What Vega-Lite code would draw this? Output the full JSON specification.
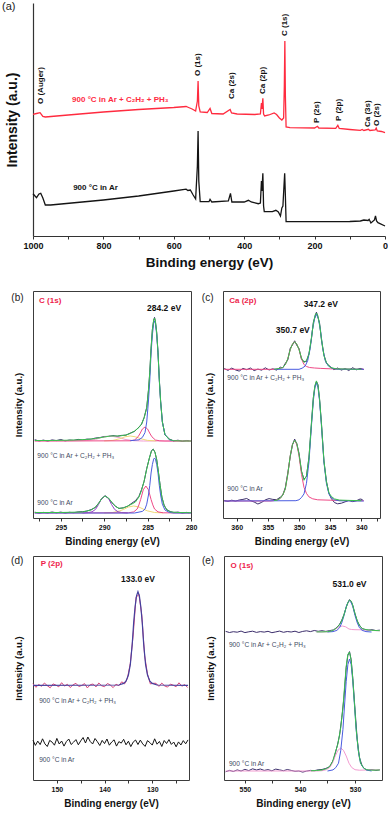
{
"$schema":"https://vega.github.io/schema/vega-lite/v6.json",
"background":"white",
"padding":{"left":2,"top":1,"right":0,"bottom":0},
"autosize":{"type":"pad"},
"config":{
 "font":"Liberation Sans",
 "view":{"stroke":"#3c3c3c","strokeWidth":1},
 "axis":{"grid":false,"labelFont":"Liberation Sans","titleFont":"Liberation Sans","labelFontWeight":"bold","titleFontWeight":"bold","labelColor":"#111","titleColor":"#111","tickColor":"#333","domainColor":"#333","labelFlush":false,"labelOverlap":false}
},
"datasets":{
"a":[
{"c":"red","E":1000,"I":121.7},{"c":"red","E":990,"I":122.5},{"c":"red","E":980,"I":123.3},{"c":"red","E":972,"I":119.5},{"c":"red","E":965,"I":119},{"c":"red","E":900,"I":121},{"c":"red","E":800,"I":124},{"c":"red","E":700,"I":126.5},{"c":"red","E":600,"I":128.5},{"c":"red","E":565,"I":129.5},{"c":"red","E":558,"I":128.5},{"c":"red","E":548,"I":127},{"c":"red","E":538,"I":125},{"c":"red","E":533,"I":135},{"c":"red","E":531,"I":155},{"c":"red","E":529,"I":130},{"c":"red","E":525,"I":124},{"c":"red","E":505,"I":123.5},{"c":"red","E":497,"I":127.5},{"c":"red","E":492,"I":122.5},{"c":"red","E":460,"I":122},{"c":"red","E":440,"I":126.5},{"c":"red","E":436,"I":123},{"c":"red","E":420,"I":122},{"c":"red","E":370,"I":121.5},{"c":"red","E":354,"I":122},{"c":"red","E":351,"I":133},{"c":"red","E":349.5,"I":127},{"c":"red","E":347,"I":137.7},{"c":"red","E":345,"I":122},{"c":"red","E":342,"I":120},{"c":"red","E":330,"I":121},{"c":"red","E":315,"I":123},{"c":"red","E":308,"I":121.5},{"c":"red","E":300,"I":118},{"c":"red","E":293,"I":116},{"c":"red","E":288,"I":118},{"c":"red","E":286,"I":150},{"c":"red","E":284.5,"I":195},{"c":"red","E":283,"I":140},{"c":"red","E":281,"I":109},{"c":"red","E":270,"I":108.3},{"c":"red","E":200,"I":108},{"c":"red","E":192,"I":109.7},{"c":"red","E":188,"I":108},{"c":"red","E":140,"I":107.7},{"c":"red","E":134,"I":110.7},{"c":"red","E":130,"I":107.5},{"c":"red","E":100,"I":106.5},{"c":"red","E":70,"I":105.7},{"c":"red","E":65,"I":106.5},{"c":"red","E":60,"I":105.5},{"c":"red","E":47,"I":106.7},{"c":"red","E":43,"I":105.5},{"c":"red","E":28,"I":106},{"c":"red","E":25,"I":108},{"c":"red","E":22,"I":105},{"c":"red","E":10,"I":104.5},{"c":"red","E":0,"I":103.3},
{"c":"black","E":1000,"I":42.3},{"c":"black","E":990,"I":38.3},{"c":"black","E":983,"I":42},{"c":"black","E":978,"I":42.7},{"c":"black","E":972,"I":38},{"c":"black","E":965,"I":31},{"c":"black","E":950,"I":31},{"c":"black","E":800,"I":36},{"c":"black","E":700,"I":40},{"c":"black","E":600,"I":45},{"c":"black","E":565,"I":46.8},{"c":"black","E":560,"I":45.5},{"c":"black","E":553,"I":46},{"c":"black","E":545,"I":41},{"c":"black","E":538,"I":37},{"c":"black","E":533,"I":70},{"c":"black","E":531,"I":105},{"c":"black","E":529,"I":55},{"c":"black","E":525,"I":34.3},{"c":"black","E":500,"I":34.3},{"c":"black","E":497,"I":36.7},{"c":"black","E":492,"I":34},{"c":"black","E":445,"I":35},{"c":"black","E":439,"I":42.7},{"c":"black","E":435,"I":34},{"c":"black","E":400,"I":34},{"c":"black","E":388,"I":35.7},{"c":"black","E":380,"I":34},{"c":"black","E":360,"I":32.3},{"c":"black","E":354,"I":33},{"c":"black","E":351,"I":55},{"c":"black","E":349.5,"I":45},{"c":"black","E":347,"I":62.7},{"c":"black","E":345,"I":30},{"c":"black","E":343,"I":24.3},{"c":"black","E":320,"I":24.3},{"c":"black","E":310,"I":25.7},{"c":"black","E":303,"I":24},{"c":"black","E":297,"I":20},{"c":"black","E":293,"I":28},{"c":"black","E":290,"I":30},{"c":"black","E":287,"I":50},{"c":"black","E":285,"I":62.7},{"c":"black","E":283,"I":40},{"c":"black","E":281,"I":14.3},{"c":"black","E":200,"I":14.3},{"c":"black","E":100,"I":14.5},{"c":"black","E":70,"I":15},{"c":"black","E":60,"I":16},{"c":"black","E":48,"I":15.5},{"c":"black","E":45,"I":16.7},{"c":"black","E":40,"I":13},{"c":"black","E":30,"I":16},{"c":"black","E":27,"I":20},{"c":"black","E":24,"I":15},{"c":"black","E":20,"I":13.3},{"c":"black","E":0,"I":10}
],
"aL":[
{"k":"peak","t":"O (Auger)","E":976,"I":132},
{"k":"peak","t":"O (1s)","E":531,"I":160},
{"k":"peak","t":"Ca (2s)","E":436,"I":137},
{"k":"peak","t":"Ca (2p)","E":346,"I":142},
{"k":"peak","t":"C (1s)","E":284,"I":200},
{"k":"peak","t":"P (2s)","E":192,"I":113},
{"k":"peak","t":"P (2p)","E":131,"I":115},
{"k":"peak","t":"Ca (3s)","E":47,"I":109},
{"k":"peak","t":"O (2s)","E":23.5,"I":110},
{"k":"ser","c":"red","t":"900 °C in Ar + C₂H₂ + PH₃","E":889,"I":135.7},
{"k":"ser","c":"black","t":"900 °C in Ar","E":886,"I":48.3},
{"k":"pan","t":"(a)","E":1088,"I":229}
],
"L":[
{"p":"b","k":"pan","t":"(b)","E":300.7,"I":220},
{"p":"b","k":"name","t":"C (1s)","E":297.5,"I":217},
{"p":"b","k":"val","t":"284.2 eV","E":283.1,"I":210},
{"p":"b","k":"ser","t":"900 °C in Ar + C₂H₂ + PH₃","E":297.7,"I":62},
{"p":"b","k":"ser","t":"900 °C in Ar","E":297.7,"I":15.3},
{"p":"c","k":"pan","t":"(c)","E":365.6,"I":220},
{"p":"c","k":"name","t":"Ca (2p)","E":361.2,"I":217},
{"p":"c","k":"val","t":"347.2 eV","E":346.5,"I":214.3},
{"p":"c","k":"val","t":"350.7 eV","E":351.0,"I":187.7},
{"p":"c","k":"ser","t":"900 °C in Ar + C₂H₂ + PH₃","E":361.5,"I":140.3},
{"p":"c","k":"ser","t":"900 °C in Ar","E":361.5,"I":29.3},
{"p":"d","k":"pan","t":"(d)","E":159.6,"I":219},
{"p":"d","k":"name","t":"P (2p)","E":153.4,"I":215.7},
{"p":"d","k":"val","t":"133.0 eV","E":133.0,"I":200.7},
{"p":"d","k":"ser","t":"900 °C in Ar + C₂H₂ + PH₃","E":153.7,"I":79},
{"p":"d","k":"ser","t":"900 °C in Ar","E":153.7,"I":19.7},
{"p":"e","k":"pan","t":"(e)","E":557.8,"I":219},
{"p":"e","k":"name","t":"O (1s)","E":552.6,"I":214},
{"p":"e","k":"val","t":"531.0 eV","E":531.0,"I":195.7},
{"p":"e","k":"ser","t":"900 °C in Ar + C₂H₂ + PH₃","E":552.9,"I":135},
{"p":"e","k":"ser","t":"900 °C in Ar","E":552.9,"I":15.7}
],
"b":[
{"g":"u","c":"raw","E":298,"I":78.3},{"g":"u","c":"raw","E":297.5,"I":77.0},{"g":"u","c":"raw","E":297,"I":77.9},{"g":"u","c":"raw","E":296.5,"I":76.8},{"g":"u","c":"raw","E":296,"I":78.1},{"g":"u","c":"raw","E":295.5,"I":77.4},{"g":"u","c":"raw","E":295,"I":78.5},{"g":"u","c":"raw","E":294.5,"I":77.1},{"g":"u","c":"raw","E":294,"I":78.0},{"g":"u","c":"raw","E":293.5,"I":77.6},{"g":"u","c":"raw","E":293,"I":78.6},{"g":"u","c":"raw","E":292.5,"I":77.9},{"g":"u","c":"raw","E":292,"I":78.9},{"g":"u","c":"raw","E":291.5,"I":78.8},{"g":"u","c":"raw","E":291,"I":80.0},{"g":"u","c":"raw","E":290.5,"I":80.4},{"g":"u","c":"raw","E":290,"I":81.5},{"g":"u","c":"raw","E":289.5,"I":81.6},{"g":"u","c":"raw","E":289,"I":82.4},{"g":"u","c":"raw","E":288.5,"I":81.7},{"g":"u","c":"raw","E":288,"I":82.6},{"g":"u","c":"raw","E":287.5,"I":82.8},{"g":"u","c":"raw","E":287,"I":84.9},{"g":"u","c":"raw","E":286.5,"I":86.6},{"g":"u","c":"raw","E":286,"I":90.9},{"g":"u","c":"raw","E":285.7,"I":93.7},{"g":"u","c":"raw","E":285.4,"I":100.5},{"g":"u","c":"raw","E":285.1,"I":110.6},{"g":"u","c":"raw","E":284.9,"I":127.5},{"g":"u","c":"raw","E":284.75,"I":145.6},{"g":"u","c":"raw","E":284.6,"I":169.3},{"g":"u","c":"raw","E":284.45,"I":188.5},{"g":"u","c":"raw","E":284.3,"I":197.6},{"g":"u","c":"raw","E":284.2,"I":200.6},{"g":"u","c":"raw","E":284.1,"I":196.4},{"g":"u","c":"raw","E":283.95,"I":185.6},{"g":"u","c":"raw","E":283.8,"I":165.3},{"g":"u","c":"raw","E":283.65,"I":138.8},{"g":"u","c":"raw","E":283.5,"I":116.4},{"g":"u","c":"raw","E":283.3,"I":96.5},{"g":"u","c":"raw","E":283,"I":83.0},{"g":"u","c":"raw","E":282.5,"I":79.1},{"g":"u","c":"raw","E":282,"I":77.0},{"g":"u","c":"raw","E":281.5,"I":77.8},{"g":"u","c":"raw","E":281,"I":76.6},{"g":"u","c":"raw","E":280.5,"I":77.5},{"g":"u","c":"raw","E":280.2,"I":77.1},
{"g":"l","c":"raw","E":298,"I":5.8},{"g":"l","c":"raw","E":297.5,"I":4.9},{"g":"l","c":"raw","E":297,"I":5.6},{"g":"l","c":"raw","E":296.5,"I":5.1},{"g":"l","c":"raw","E":296,"I":6.0},{"g":"l","c":"raw","E":295.5,"I":5.2},{"g":"l","c":"raw","E":295,"I":5.9},{"g":"l","c":"raw","E":294.5,"I":5.0},{"g":"l","c":"raw","E":294,"I":5.7},{"g":"l","c":"raw","E":293.5,"I":5.3},{"g":"l","c":"raw","E":293,"I":6.1},{"g":"l","c":"raw","E":292.5,"I":6.3},{"g":"l","c":"raw","E":292,"I":6.9},{"g":"l","c":"raw","E":291.5,"I":8.4},{"g":"l","c":"raw","E":291,"I":10.6},{"g":"l","c":"raw","E":290.6,"I":15.4},{"g":"l","c":"raw","E":290.3,"I":19.0},{"g":"l","c":"raw","E":289.9,"I":22.3},{"g":"l","c":"raw","E":289.5,"I":19.6},{"g":"l","c":"raw","E":289.1,"I":15.2},{"g":"l","c":"raw","E":288.7,"I":11.9},{"g":"l","c":"raw","E":288.3,"I":9.5},{"g":"l","c":"raw","E":287.8,"I":10.2},{"g":"l","c":"raw","E":287.3,"I":11.7},{"g":"l","c":"raw","E":286.8,"I":14.9},{"g":"l","c":"raw","E":286.4,"I":17.3},{"g":"l","c":"raw","E":286,"I":21.6},{"g":"l","c":"raw","E":285.7,"I":28.4},{"g":"l","c":"raw","E":285.4,"I":36.5},{"g":"l","c":"raw","E":285.1,"I":49.5},{"g":"l","c":"raw","E":284.8,"I":59.6},{"g":"l","c":"raw","E":284.55,"I":67.4},{"g":"l","c":"raw","E":284.35,"I":68.9},{"g":"l","c":"raw","E":284.15,"I":65.6},{"g":"l","c":"raw","E":283.95,"I":58.4},{"g":"l","c":"raw","E":283.75,"I":45.6},{"g":"l","c":"raw","E":283.55,"I":32.4},{"g":"l","c":"raw","E":283.35,"I":20.7},{"g":"l","c":"raw","E":283.1,"I":12.9},{"g":"l","c":"raw","E":282.8,"I":8.2},{"g":"l","c":"raw","E":282.4,"I":6.5},{"g":"l","c":"raw","E":282,"I":5.4},{"g":"l","c":"raw","E":281.5,"I":5.9},{"g":"l","c":"raw","E":281,"I":5.0},{"g":"l","c":"raw","E":280.5,"I":5.6},{"g":"l","c":"raw","E":280.2,"I":5.2},
{"g":"u","c":"fit","E":298,"I":77.5},{"g":"u","c":"fit","E":296,"I":77.5},{"g":"u","c":"fit","E":294,"I":77.8},{"g":"u","c":"fit","E":292,"I":78.5},{"g":"u","c":"fit","E":291,"I":79.5},{"g":"u","c":"fit","E":290,"I":81},{"g":"u","c":"fit","E":289.3,"I":82},{"g":"u","c":"fit","E":288.5,"I":82},{"g":"u","c":"fit","E":288,"I":82.3},{"g":"u","c":"fit","E":287.5,"I":83},{"g":"u","c":"fit","E":287,"I":84.5},{"g":"u","c":"fit","E":286.5,"I":87},{"g":"u","c":"fit","E":286,"I":90.5},{"g":"u","c":"fit","E":285.7,"I":94},{"g":"u","c":"fit","E":285.4,"I":100},{"g":"u","c":"fit","E":285.1,"I":110},{"g":"u","c":"fit","E":284.9,"I":128},{"g":"u","c":"fit","E":284.75,"I":145},{"g":"u","c":"fit","E":284.6,"I":170},{"g":"u","c":"fit","E":284.45,"I":188},{"g":"u","c":"fit","E":284.3,"I":198},{"g":"u","c":"fit","E":284.2,"I":200},{"g":"u","c":"fit","E":284.1,"I":197},{"g":"u","c":"fit","E":283.95,"I":185},{"g":"u","c":"fit","E":283.8,"I":166},{"g":"u","c":"fit","E":283.65,"I":138},{"g":"u","c":"fit","E":283.5,"I":117},{"g":"u","c":"fit","E":283.3,"I":96},{"g":"u","c":"fit","E":283,"I":83.5},{"g":"u","c":"fit","E":282.5,"I":78.5},{"g":"u","c":"fit","E":282,"I":77.3},{"g":"u","c":"fit","E":281,"I":77},{"g":"u","c":"fit","E":280,"I":77},
{"g":"l","c":"fit","E":298,"I":5.5},{"g":"l","c":"fit","E":295,"I":5.5},{"g":"l","c":"fit","E":292.5,"I":6},{"g":"l","c":"fit","E":291.5,"I":8},{"g":"l","c":"fit","E":291,"I":11},{"g":"l","c":"fit","E":290.6,"I":15},{"g":"l","c":"fit","E":290.3,"I":19.5},{"g":"l","c":"fit","E":289.9,"I":22},{"g":"l","c":"fit","E":289.5,"I":20},{"g":"l","c":"fit","E":289.1,"I":15.5},{"g":"l","c":"fit","E":288.7,"I":11.5},{"g":"l","c":"fit","E":288.3,"I":9.7},{"g":"l","c":"fit","E":287.8,"I":10},{"g":"l","c":"fit","E":287.3,"I":12},{"g":"l","c":"fit","E":286.8,"I":14},{"g":"l","c":"fit","E":286.4,"I":16},{"g":"l","c":"fit","E":286,"I":21},{"g":"l","c":"fit","E":285.7,"I":27.5},{"g":"l","c":"fit","E":285.4,"I":37},{"g":"l","c":"fit","E":285.1,"I":49},{"g":"l","c":"fit","E":284.8,"I":60},{"g":"l","c":"fit","E":284.55,"I":67},{"g":"l","c":"fit","E":284.35,"I":68.7},{"g":"l","c":"fit","E":284.15,"I":66},{"g":"l","c":"fit","E":283.95,"I":58},{"g":"l","c":"fit","E":283.75,"I":46},{"g":"l","c":"fit","E":283.55,"I":32},{"g":"l","c":"fit","E":283.35,"I":21},{"g":"l","c":"fit","E":283.1,"I":12.5},{"g":"l","c":"fit","E":282.8,"I":8.5},{"g":"l","c":"fit","E":282.4,"I":6.2},{"g":"l","c":"fit","E":281.5,"I":5.5},{"g":"l","c":"fit","E":280,"I":5.3},
{"g":"u1","c":"lpink","E":298,"I":77.2},{"g":"u1","c":"lpink","E":294,"I":77.2},{"g":"u1","c":"lpink","E":292,"I":77.5},{"g":"u1","c":"lpink","E":291,"I":78.6},{"g":"u1","c":"lpink","E":290.3,"I":80.5},{"g":"u1","c":"lpink","E":289.3,"I":82},{"g":"u1","c":"lpink","E":288.3,"I":80.5},{"g":"u1","c":"lpink","E":287.6,"I":78.6},{"g":"u1","c":"lpink","E":286.6,"I":77.3},{"g":"u1","c":"lpink","E":285.5,"I":77},{"g":"u1","c":"lpink","E":280,"I":77},
{"g":"u2","c":"yellow","E":290,"I":77.1},{"g":"u2","c":"yellow","E":289,"I":77.6},{"g":"u2","c":"yellow","E":288.2,"I":79.3},{"g":"u2","c":"yellow","E":287.6,"I":81.2},{"g":"u2","c":"yellow","E":287,"I":82},{"g":"u2","c":"yellow","E":286.4,"I":81.2},{"g":"u2","c":"yellow","E":285.8,"I":79.3},{"g":"u2","c":"yellow","E":285,"I":77.6},{"g":"u2","c":"yellow","E":284,"I":77.1},
{"g":"u3","c":"pink","E":298,"I":77},{"g":"u3","c":"pink","E":287,"I":77.2},{"g":"u3","c":"pink","E":286.5,"I":78},{"g":"u3","c":"pink","E":286.1,"I":81.2},{"g":"u3","c":"pink","E":285.9,"I":84},{"g":"u3","c":"pink","E":285.6,"I":89},{"g":"u3","c":"pink","E":285.3,"I":91},{"g":"u3","c":"pink","E":285,"I":89},{"g":"u3","c":"pink","E":284.7,"I":84},{"g":"u3","c":"pink","E":284.5,"I":81.2},{"g":"u3","c":"pink","E":284.1,"I":78},{"g":"u3","c":"pink","E":283.6,"I":77.2},{"g":"u3","c":"pink","E":283,"I":77},{"g":"u3","c":"pink","E":280,"I":77},
{"g":"u4","c":"blue","E":287,"I":77.3},{"g":"u4","c":"blue","E":286,"I":78.2},{"g":"u4","c":"blue","E":285.6,"I":80.6},{"g":"u4","c":"blue","E":285.3,"I":85.4},{"g":"u4","c":"blue","E":285.1,"I":96},{"g":"u4","c":"blue","E":284.9,"I":117},{"g":"u4","c":"blue","E":284.75,"I":137},{"g":"u4","c":"blue","E":284.6,"I":165},{"g":"u4","c":"blue","E":284.45,"I":183},{"g":"u4","c":"blue","E":284.3,"I":194.6},{"g":"u4","c":"blue","E":284.2,"I":197},{"g":"u4","c":"blue","E":284.1,"I":194.6},{"g":"u4","c":"blue","E":283.95,"I":183},{"g":"u4","c":"blue","E":283.8,"I":165},{"g":"u4","c":"blue","E":283.65,"I":137},{"g":"u4","c":"blue","E":283.5,"I":117},{"g":"u4","c":"blue","E":283.3,"I":96},{"g":"u4","c":"blue","E":283,"I":83.6},{"g":"u4","c":"blue","E":282.5,"I":78.2},{"g":"u4","c":"blue","E":282,"I":77.2},
{"g":"l1","c":"yellow","E":290,"I":5.1},{"g":"l1","c":"yellow","E":289,"I":5.5},{"g":"l1","c":"yellow","E":288.2,"I":7.1},{"g":"l1","c":"yellow","E":287.8,"I":8.5},{"g":"l1","c":"yellow","E":287.2,"I":11},{"g":"l1","c":"yellow","E":286.6,"I":12},{"g":"l1","c":"yellow","E":286,"I":11},{"g":"l1","c":"yellow","E":285.4,"I":8.5},{"g":"l1","c":"yellow","E":285,"I":7.1},{"g":"l1","c":"yellow","E":284.2,"I":5.5},{"g":"l1","c":"yellow","E":283.2,"I":5.1},
{"g":"l2","c":"purple","E":292.5,"I":5},{"g":"l2","c":"purple","E":291.8,"I":5.5},{"g":"l2","c":"purple","E":291.4,"I":6.2},{"g":"l2","c":"purple","E":291,"I":8.6},{"g":"l2","c":"purple","E":290.65,"I":13.5},{"g":"l2","c":"purple","E":290.3,"I":19.5},{"g":"l2","c":"purple","E":289.9,"I":22},{"g":"l2","c":"purple","E":289.5,"I":19.5},{"g":"l2","c":"purple","E":289.15,"I":13.5},{"g":"l2","c":"purple","E":288.8,"I":8.6},{"g":"l2","c":"purple","E":288.4,"I":6.2},{"g":"l2","c":"purple","E":288,"I":5.5},{"g":"l2","c":"purple","E":287.3,"I":5},
{"g":"l3","c":"pink","E":298,"I":5},{"g":"l3","c":"pink","E":287.2,"I":5.2},{"g":"l3","c":"pink","E":286.6,"I":6.1},{"g":"l3","c":"pink","E":286.2,"I":9},{"g":"l3","c":"pink","E":286,"I":13.1},{"g":"l3","c":"pink","E":285.8,"I":18.5},{"g":"l3","c":"pink","E":285.5,"I":28.2},{"g":"l3","c":"pink","E":285.2,"I":32},{"g":"l3","c":"pink","E":284.9,"I":28.2},{"g":"l3","c":"pink","E":284.6,"I":18.5},{"g":"l3","c":"pink","E":284.4,"I":13.1},{"g":"l3","c":"pink","E":284.2,"I":9},{"g":"l3","c":"pink","E":283.8,"I":6.1},{"g":"l3","c":"pink","E":283.2,"I":5.2},{"g":"l3","c":"pink","E":280,"I":5},
{"g":"l4","c":"blue","E":298,"I":5},{"g":"l4","c":"blue","E":286.5,"I":5},{"g":"l4","c":"blue","E":285.6,"I":6.6},{"g":"l4","c":"blue","E":285.3,"I":8.9},{"g":"l4","c":"blue","E":285.1,"I":13.8},{"g":"l4","c":"blue","E":284.9,"I":23},{"g":"l4","c":"blue","E":284.75,"I":32.5},{"g":"l4","c":"blue","E":284.6,"I":45},{"g":"l4","c":"blue","E":284.45,"I":53.4},{"g":"l4","c":"blue","E":284.3,"I":58.9},{"g":"l4","c":"blue","E":284.2,"I":60},{"g":"l4","c":"blue","E":284.1,"I":58.9},{"g":"l4","c":"blue","E":283.95,"I":53.4},{"g":"l4","c":"blue","E":283.8,"I":45},{"g":"l4","c":"blue","E":283.65,"I":32.5},{"g":"l4","c":"blue","E":283.5,"I":23},{"g":"l4","c":"blue","E":283.3,"I":13.8},{"g":"l4","c":"blue","E":283,"I":8},{"g":"l4","c":"blue","E":282.5,"I":5.6},{"g":"l4","c":"blue","E":282,"I":5},{"g":"l4","c":"blue","E":280,"I":5}
],
"c":[
{"g":"u","c":"raw","E":362,"I":149.5},{"g":"u","c":"raw","E":361.4,"I":147.6},{"g":"u","c":"raw","E":360.8,"I":149.9},{"g":"u","c":"raw","E":360.2,"I":148.1},{"g":"u","c":"raw","E":359.6,"I":146.9},{"g":"u","c":"raw","E":359,"I":149.6},{"g":"u","c":"raw","E":358.4,"I":148.3},{"g":"u","c":"raw","E":357.8,"I":150.0},{"g":"u","c":"raw","E":357.2,"I":147.4},{"g":"u","c":"raw","E":356.6,"I":148.9},{"g":"u","c":"raw","E":356,"I":147.8},{"g":"u","c":"raw","E":355.4,"I":150.2},{"g":"u","c":"raw","E":354.8,"I":148.0},{"g":"u","c":"raw","E":354.2,"I":149.2},{"g":"u","c":"raw","E":353.6,"I":147.9},{"g":"u","c":"raw","E":353,"I":150.8},{"g":"u","c":"raw","E":352.6,"I":150.1},{"g":"u","c":"raw","E":352.2,"I":154.6},{"g":"u","c":"raw","E":351.8,"I":158.0},{"g":"u","c":"raw","E":351.4,"I":169.9},{"g":"u","c":"raw","E":351.05,"I":173.0},{"g":"u","c":"raw","E":350.7,"I":177.2},{"g":"u","c":"raw","E":350.35,"I":172.6},{"g":"u","c":"raw","E":350,"I":169.5},{"g":"u","c":"raw","E":349.6,"I":158.6},{"g":"u","c":"raw","E":349.2,"I":156.5},{"g":"u","c":"raw","E":348.8,"I":156.4},{"g":"u","c":"raw","E":348.4,"I":164.6},{"g":"u","c":"raw","E":348,"I":179.3},{"g":"u","c":"raw","E":347.7,"I":195.6},{"g":"u","c":"raw","E":347.4,"I":202.2},{"g":"u","c":"raw","E":347.2,"I":205.8},{"g":"u","c":"raw","E":347,"I":201.8},{"g":"u","c":"raw","E":346.7,"I":194.9},{"g":"u","c":"raw","E":346.4,"I":178.3},{"g":"u","c":"raw","E":346,"I":163.4},{"g":"u","c":"raw","E":345.6,"I":154.6},{"g":"u","c":"raw","E":345,"I":151.5},{"g":"u","c":"raw","E":344.4,"I":148.3},{"g":"u","c":"raw","E":343.8,"I":150.0},{"g":"u","c":"raw","E":343.2,"I":147.9},{"g":"u","c":"raw","E":342.6,"I":149.4},{"g":"u","c":"raw","E":342,"I":147.5},{"g":"u","c":"raw","E":341.4,"I":150.3},{"g":"u","c":"raw","E":340.8,"I":148.2},{"g":"u","c":"raw","E":340.2,"I":149.6},{"g":"u","c":"raw","E":339.6,"I":148.5},
{"g":"l","c":"raw","E":362,"I":17.5},{"g":"l","c":"raw","E":361.4,"I":16.6},{"g":"l","c":"raw","E":360.8,"I":17.8},{"g":"l","c":"raw","E":360.2,"I":16.9},{"g":"l","c":"raw","E":359.6,"I":18.0},{"g":"l","c":"raw","E":359,"I":18.6},{"g":"l","c":"raw","E":358.4,"I":19.5},{"g":"l","c":"raw","E":357.8,"I":17.4},{"g":"l","c":"raw","E":357.2,"I":16.0},{"g":"l","c":"raw","E":356.6,"I":14.0},{"g":"l","c":"raw","E":356,"I":15.6},{"g":"l","c":"raw","E":355.4,"I":18.2},{"g":"l","c":"raw","E":354.8,"I":19.4},{"g":"l","c":"raw","E":354.2,"I":18.6},{"g":"l","c":"raw","E":353.6,"I":18.3},{"g":"l","c":"raw","E":353,"I":20.8},{"g":"l","c":"raw","E":352.6,"I":23.0},{"g":"l","c":"raw","E":352.2,"I":30.4},{"g":"l","c":"raw","E":351.8,"I":44.9},{"g":"l","c":"raw","E":351.4,"I":61.6},{"g":"l","c":"raw","E":351.05,"I":73.1},{"g":"l","c":"raw","E":350.7,"I":78.9},{"g":"l","c":"raw","E":350.35,"I":74.0},{"g":"l","c":"raw","E":350,"I":64.8},{"g":"l","c":"raw","E":349.6,"I":46.5},{"g":"l","c":"raw","E":349.2,"I":38.9},{"g":"l","c":"raw","E":348.8,"I":41.5},{"g":"l","c":"raw","E":348.4,"I":60.9},{"g":"l","c":"raw","E":348,"I":94.6},{"g":"l","c":"raw","E":347.7,"I":120.4},{"g":"l","c":"raw","E":347.45,"I":131.6},{"g":"l","c":"raw","E":347.2,"I":136.5},{"g":"l","c":"raw","E":346.95,"I":133.2},{"g":"l","c":"raw","E":346.7,"I":118.4},{"g":"l","c":"raw","E":346.4,"I":95.1},{"g":"l","c":"raw","E":346,"I":56.9},{"g":"l","c":"raw","E":345.6,"I":36.8},{"g":"l","c":"raw","E":345.2,"I":24.6},{"g":"l","c":"raw","E":344.8,"I":19.3},{"g":"l","c":"raw","E":344.3,"I":15.4},{"g":"l","c":"raw","E":343.8,"I":14.2},{"g":"l","c":"raw","E":343.2,"I":14.8},{"g":"l","c":"raw","E":342.6,"I":16.2},{"g":"l","c":"raw","E":342,"I":17.5},{"g":"l","c":"raw","E":341.4,"I":16.4},{"g":"l","c":"raw","E":340.8,"I":17.2},{"g":"l","c":"raw","E":340.2,"I":19.0},{"g":"l","c":"raw","E":339.8,"I":18.4},
{"g":"u","c":"fit","E":354,"I":148.7},{"g":"u","c":"fit","E":353,"I":149.7},{"g":"u","c":"fit","E":352.6,"I":150.6},{"g":"u","c":"fit","E":352.2,"I":153.4},{"g":"u","c":"fit","E":351.8,"I":159.2},{"g":"u","c":"fit","E":351.4,"I":168.6},{"g":"u","c":"fit","E":351.05,"I":173.8},{"g":"u","c":"fit","E":350.7,"I":176.3},{"g":"u","c":"fit","E":350.35,"I":173.8},{"g":"u","c":"fit","E":350,"I":168.6},{"g":"u","c":"fit","E":349.6,"I":160},{"g":"u","c":"fit","E":349.2,"I":155.6},{"g":"u","c":"fit","E":348.8,"I":157.5},{"g":"u","c":"fit","E":348.4,"I":163.7},{"g":"u","c":"fit","E":348,"I":180.4},{"g":"u","c":"fit","E":347.7,"I":194.5},{"g":"u","c":"fit","E":347.4,"I":203.2},{"g":"u","c":"fit","E":347.2,"I":205},{"g":"u","c":"fit","E":347,"I":202.9},{"g":"u","c":"fit","E":346.7,"I":193.8},{"g":"u","c":"fit","E":346.4,"I":179.4},{"g":"u","c":"fit","E":346,"I":162.3},{"g":"u","c":"fit","E":345.6,"I":155.5},{"g":"u","c":"fit","E":345,"I":150.6},{"g":"u","c":"fit","E":344,"I":149.1},{"g":"u","c":"fit","E":342,"I":148.9},{"g":"u","c":"fit","E":340,"I":148.7},
{"g":"l","c":"fit","E":354,"I":17.4},{"g":"l","c":"fit","E":353.5,"I":17.9},{"g":"l","c":"fit","E":353,"I":19.7},{"g":"l","c":"fit","E":352.6,"I":23.1},{"g":"l","c":"fit","E":352.2,"I":29.1},{"g":"l","c":"fit","E":351.8,"I":43.7},{"g":"l","c":"fit","E":351.4,"I":62.5},{"g":"l","c":"fit","E":351.05,"I":73.5},{"g":"l","c":"fit","E":350.7,"I":77.8},{"g":"l","c":"fit","E":350.35,"I":74.7},{"g":"l","c":"fit","E":350,"I":63.7},{"g":"l","c":"fit","E":349.6,"I":47.2},{"g":"l","c":"fit","E":349.2,"I":37.7},{"g":"l","c":"fit","E":348.8,"I":42.3},{"g":"l","c":"fit","E":348.4,"I":60.1},{"g":"l","c":"fit","E":348,"I":95.3},{"g":"l","c":"fit","E":347.7,"I":119.6},{"g":"l","c":"fit","E":347.45,"I":132.5},{"g":"l","c":"fit","E":347.2,"I":137.1},{"g":"l","c":"fit","E":346.95,"I":132.3},{"g":"l","c":"fit","E":346.7,"I":119.2},{"g":"l","c":"fit","E":346.4,"I":94.3},{"g":"l","c":"fit","E":346,"I":57.6},{"g":"l","c":"fit","E":345.6,"I":36.1},{"g":"l","c":"fit","E":345.2,"I":25.3},{"g":"l","c":"fit","E":344.8,"I":21.5},{"g":"l","c":"fit","E":344.3,"I":19.1},{"g":"l","c":"fit","E":343.5,"I":17.9},{"g":"l","c":"fit","E":342,"I":17.6},{"g":"l","c":"fit","E":340,"I":17.3},
{"g":"u1","c":"pink","E":362,"I":148.7},{"g":"u1","c":"pink","E":354,"I":148.7},{"g":"u1","c":"pink","E":353.5,"I":149},{"g":"u1","c":"pink","E":353,"I":149.7},{"g":"u1","c":"pink","E":352.6,"I":150.6},{"g":"u1","c":"pink","E":352.2,"I":153.4},{"g":"u1","c":"pink","E":351.8,"I":159.2},{"g":"u1","c":"pink","E":351.4,"I":168.6},{"g":"u1","c":"pink","E":351.05,"I":173.8},{"g":"u1","c":"pink","E":350.7,"I":176.3},{"g":"u1","c":"pink","E":350.35,"I":173.8},{"g":"u1","c":"pink","E":350,"I":168.6},{"g":"u1","c":"pink","E":349.6,"I":159.2},{"g":"u1","c":"pink","E":349.2,"I":153.4},{"g":"u1","c":"pink","E":348.8,"I":151.5},{"g":"u1","c":"pink","E":348.3,"I":150.5},{"g":"u1","c":"pink","E":347.5,"I":150},{"g":"u1","c":"pink","E":346.5,"I":149.6},{"g":"u1","c":"pink","E":345,"I":149.2},{"g":"u1","c":"pink","E":343,"I":148.9},{"g":"u1","c":"pink","E":339.6,"I":148.7},
{"g":"u2","c":"blue","E":354,"I":148.7},{"g":"u2","c":"blue","E":350,"I":148.7},{"g":"u2","c":"blue","E":349.5,"I":149.8},{"g":"u2","c":"blue","E":349,"I":152},{"g":"u2","c":"blue","E":348.6,"I":157.5},{"g":"u2","c":"blue","E":348.2,"I":169.6},{"g":"u2","c":"blue","E":347.85,"I":187.8},{"g":"u2","c":"blue","E":347.5,"I":199.3},{"g":"u2","c":"blue","E":347.2,"I":203.7},{"g":"u2","c":"blue","E":346.9,"I":199.3},{"g":"u2","c":"blue","E":346.55,"I":187.8},{"g":"u2","c":"blue","E":346.2,"I":169.6},{"g":"u2","c":"blue","E":345.8,"I":157.5},{"g":"u2","c":"blue","E":345.3,"I":152},{"g":"u2","c":"blue","E":344.7,"I":149.8},{"g":"u2","c":"blue","E":344,"I":148.8},{"g":"u2","c":"blue","E":339.6,"I":148.7},
{"g":"l1","c":"pink","E":362,"I":17},{"g":"l1","c":"pink","E":354.5,"I":17},{"g":"l1","c":"pink","E":354,"I":17.4},{"g":"l1","c":"pink","E":353.5,"I":17.9},{"g":"l1","c":"pink","E":353,"I":19.7},{"g":"l1","c":"pink","E":352.6,"I":23.1},{"g":"l1","c":"pink","E":352.2,"I":29.1},{"g":"l1","c":"pink","E":351.8,"I":43.7},{"g":"l1","c":"pink","E":351.4,"I":62.5},{"g":"l1","c":"pink","E":351.05,"I":73.5},{"g":"l1","c":"pink","E":350.7,"I":77.7},{"g":"l1","c":"pink","E":350.35,"I":73.5},{"g":"l1","c":"pink","E":350,"I":62.5},{"g":"l1","c":"pink","E":349.6,"I":43.7},{"g":"l1","c":"pink","E":349.2,"I":30.6},{"g":"l1","c":"pink","E":348.8,"I":24.6},{"g":"l1","c":"pink","E":348.4,"I":21.1},{"g":"l1","c":"pink","E":347.8,"I":19.2},{"g":"l1","c":"pink","E":347,"I":18.2},{"g":"l1","c":"pink","E":345,"I":17.8},{"g":"l1","c":"pink","E":343,"I":17.5},{"g":"l1","c":"pink","E":339.6,"I":17.3},
{"g":"l2","c":"blue","E":362,"I":17},{"g":"l2","c":"blue","E":350.5,"I":17.3},{"g":"l2","c":"blue","E":350,"I":18.2},{"g":"l2","c":"blue","E":349.6,"I":20.5},{"g":"l2","c":"blue","E":349.2,"I":24.1},{"g":"l2","c":"blue","E":348.8,"I":34.7},{"g":"l2","c":"blue","E":348.4,"I":56},{"g":"l2","c":"blue","E":348,"I":92.5},{"g":"l2","c":"blue","E":347.7,"I":117.3},{"g":"l2","c":"blue","E":347.45,"I":130.3},{"g":"l2","c":"blue","E":347.2,"I":135},{"g":"l2","c":"blue","E":346.95,"I":130.3},{"g":"l2","c":"blue","E":346.7,"I":117.3},{"g":"l2","c":"blue","E":346.4,"I":92.5},{"g":"l2","c":"blue","E":346,"I":56},{"g":"l2","c":"blue","E":345.6,"I":34.7},{"g":"l2","c":"blue","E":345.2,"I":24.1},{"g":"l2","c":"blue","E":344.8,"I":20.5},{"g":"l2","c":"blue","E":344.3,"I":18.2},{"g":"l2","c":"blue","E":343.5,"I":17.2},{"g":"l2","c":"blue","E":339.6,"I":17}
],
"d":[
{"g":"u","c":"praw","E":155,"I":96.3},{"g":"u","c":"praw","E":154.4,"I":92.7},{"g":"u","c":"praw","E":153.8,"I":95.5},{"g":"u","c":"praw","E":153.2,"I":93.7},{"g":"u","c":"praw","E":152.6,"I":97.0},{"g":"u","c":"praw","E":152,"I":94.3},{"g":"u","c":"praw","E":151.4,"I":92.2},{"g":"u","c":"praw","E":150.8,"I":96.1},{"g":"u","c":"praw","E":150.2,"I":94.9},{"g":"u","c":"praw","E":149.6,"I":93.2},{"g":"u","c":"praw","E":149,"I":97.3},{"g":"u","c":"praw","E":148.4,"I":93.9},{"g":"u","c":"praw","E":147.8,"I":95.7},{"g":"u","c":"praw","E":147.2,"I":92.5},{"g":"u","c":"praw","E":146.6,"I":95.2},{"g":"u","c":"praw","E":146,"I":96.7},{"g":"u","c":"praw","E":145.4,"I":93.5},{"g":"u","c":"praw","E":144.8,"I":94.5},{"g":"u","c":"praw","E":144.2,"I":96.4},{"g":"u","c":"praw","E":143.6,"I":92.1},{"g":"u","c":"praw","E":143,"I":95.3},{"g":"u","c":"praw","E":142.4,"I":96.0},{"g":"u","c":"praw","E":141.8,"I":93.1},{"g":"u","c":"praw","E":141.2,"I":97.0},{"g":"u","c":"praw","E":140.6,"I":94.2},{"g":"u","c":"praw","E":140,"I":93.3},{"g":"u","c":"praw","E":139.4,"I":96.5},{"g":"u","c":"praw","E":138.8,"I":95.0},{"g":"u","c":"praw","E":138.2,"I":92.4},{"g":"u","c":"praw","E":137.6,"I":95.8},{"g":"u","c":"praw","E":137,"I":94.3},{"g":"u","c":"praw","E":136.4,"I":98.2},{"g":"u","c":"praw","E":135.8,"I":96.1},{"g":"u","c":"praw","E":135.2,"I":101.9},{"g":"u","c":"praw","E":134.6,"I":116.7},{"g":"u","c":"praw","E":134,"I":145.0},{"g":"u","c":"praw","E":133.4,"I":182.5},{"g":"u","c":"praw","E":132.8,"I":185.7},{"g":"u","c":"praw","E":132.2,"I":165.1},{"g":"u","c":"praw","E":131.6,"I":124.3},{"g":"u","c":"praw","E":131,"I":105.9},{"g":"u","c":"praw","E":130.4,"I":96.1},{"g":"u","c":"praw","E":129.8,"I":96.7},{"g":"u","c":"praw","E":129.2,"I":96.7},{"g":"u","c":"praw","E":128.6,"I":93.6},{"g":"u","c":"praw","E":128,"I":96.9},{"g":"u","c":"praw","E":127.4,"I":94.1},{"g":"u","c":"praw","E":126.8,"I":92.9},{"g":"u","c":"praw","E":126.2,"I":95.9},{"g":"u","c":"praw","E":125.6,"I":94.8},{"g":"u","c":"praw","E":125,"I":93.3},{"g":"u","c":"praw","E":124.4,"I":97.2},{"g":"u","c":"praw","E":123.8,"I":93.8},{"g":"u","c":"praw","E":123.2,"I":95.5},{"g":"u","c":"praw","E":122.6,"I":92.5},
{"g":"l","c":"black","E":155,"I":39.8},{"g":"l","c":"black","E":154.5,"I":34.6},{"g":"l","c":"black","E":154,"I":38.9},{"g":"l","c":"black","E":153.5,"I":35.4},{"g":"l","c":"black","E":153,"I":41.2},{"g":"l","c":"black","E":152.5,"I":36.1},{"g":"l","c":"black","E":152,"I":33.5},{"g":"l","c":"black","E":151.5,"I":39.6},{"g":"l","c":"black","E":151,"I":37.9},{"g":"l","c":"black","E":150.5,"I":34.8},{"g":"l","c":"black","E":150,"I":41.6},{"g":"l","c":"black","E":149.5,"I":36.0},{"g":"l","c":"black","E":149,"I":39.0},{"g":"l","c":"black","E":148.5,"I":33.9},{"g":"l","c":"black","E":148,"I":38.5},{"g":"l","c":"black","E":147.5,"I":41.0},{"g":"l","c":"black","E":147,"I":35.5},{"g":"l","c":"black","E":146.5,"I":37.8},{"g":"l","c":"black","E":146,"I":40.4},{"g":"l","c":"black","E":145.5,"I":35.2},{"g":"l","c":"black","E":145,"I":39.1},{"g":"l","c":"black","E":144.5,"I":42.5},{"g":"l","c":"black","E":144,"I":37.0},{"g":"l","c":"black","E":143.5,"I":43.0},{"g":"l","c":"black","E":143,"I":38.5},{"g":"l","c":"black","E":142.5,"I":36.0},{"g":"l","c":"black","E":142,"I":41.5},{"g":"l","c":"black","E":141.5,"I":38.3},{"g":"l","c":"black","E":141,"I":34.5},{"g":"l","c":"black","E":140.5,"I":39.6},{"g":"l","c":"black","E":140,"I":36.4},{"g":"l","c":"black","E":139.5,"I":41.0},{"g":"l","c":"black","E":139,"I":34.8},{"g":"l","c":"black","E":138.5,"I":38.0},{"g":"l","c":"black","E":138,"I":40.2},{"g":"l","c":"black","E":137.5,"I":33.9},{"g":"l","c":"black","E":137,"I":38.4},{"g":"l","c":"black","E":136.5,"I":36.9},{"g":"l","c":"black","E":136,"I":40.7},{"g":"l","c":"black","E":135.5,"I":35.2},{"g":"l","c":"black","E":135,"I":38.8},{"g":"l","c":"black","E":134.5,"I":33.4},{"g":"l","c":"black","E":134,"I":37.9},{"g":"l","c":"black","E":133.5,"I":40.0},{"g":"l","c":"black","E":133,"I":35.5},{"g":"l","c":"black","E":132.5,"I":39.9},{"g":"l","c":"black","E":132,"I":36.1},{"g":"l","c":"black","E":131.5,"I":33.6},{"g":"l","c":"black","E":131,"I":39.4},{"g":"l","c":"black","E":130.5,"I":37.4},{"g":"l","c":"black","E":130,"I":34.9},{"g":"l","c":"black","E":129.5,"I":41.2},{"g":"l","c":"black","E":129,"I":35.8},{"g":"l","c":"black","E":128.5,"I":38.6},{"g":"l","c":"black","E":128,"I":33.5},{"g":"l","c":"black","E":127.5,"I":39.5},{"g":"l","c":"black","E":127,"I":36.5},{"g":"l","c":"black","E":126.5,"I":40.4},{"g":"l","c":"black","E":126,"I":35.6},{"g":"l","c":"black","E":125.5,"I":38.0},{"g":"l","c":"black","E":125,"I":33.2},{"g":"l","c":"black","E":124.5,"I":38.1},{"g":"l","c":"black","E":124,"I":35.0},{"g":"l","c":"black","E":123.5,"I":39.4},{"g":"l","c":"black","E":123,"I":36.2},{"g":"l","c":"black","E":122.5,"I":40.1},
{"g":"u","c":"fit","E":155,"I":94.7},{"g":"u","c":"fit","E":137,"I":95},{"g":"u","c":"fit","E":136,"I":96.6},{"g":"u","c":"fit","E":135.5,"I":98.9},{"g":"u","c":"fit","E":135,"I":105},{"g":"u","c":"fit","E":134.6,"I":115.3},{"g":"u","c":"fit","E":134.2,"I":135.9},{"g":"u","c":"fit","E":133.9,"I":157.4},{"g":"u","c":"fit","E":133.6,"I":173.3},{"g":"u","c":"fit","E":133.3,"I":184.1},{"g":"u","c":"fit","E":133,"I":188.3},{"g":"u","c":"fit","E":132.7,"I":184.1},{"g":"u","c":"fit","E":132.4,"I":173.3},{"g":"u","c":"fit","E":132.1,"I":157.4},{"g":"u","c":"fit","E":131.8,"I":135.9},{"g":"u","c":"fit","E":131.4,"I":115.3},{"g":"u","c":"fit","E":131,"I":105},{"g":"u","c":"fit","E":130.5,"I":98.9},{"g":"u","c":"fit","E":130,"I":96.6},{"g":"u","c":"fit","E":129,"I":95},{"g":"u","c":"fit","E":122.5,"I":94.7}
],
"e":[
{"g":"u","c":"raw","E":553.5,"I":148.6},{"g":"u","c":"raw","E":552.8,"I":147.5},{"g":"u","c":"raw","E":552.1,"I":148.3},{"g":"u","c":"raw","E":551.4,"I":147.8},{"g":"u","c":"raw","E":550.7,"I":148.9},{"g":"u","c":"raw","E":550,"I":147.4},{"g":"u","c":"raw","E":549.3,"I":148.2},{"g":"u","c":"raw","E":548.6,"I":148.8},{"g":"u","c":"raw","E":547.9,"I":147.6},{"g":"u","c":"raw","E":547.2,"I":148.4},{"g":"u","c":"raw","E":546.5,"I":147.9},{"g":"u","c":"raw","E":545.8,"I":148.7},{"g":"u","c":"raw","E":545.1,"I":147.3},{"g":"u","c":"raw","E":544.4,"I":148.1},{"g":"u","c":"raw","E":543.7,"I":148.9},{"g":"u","c":"raw","E":543,"I":147.7},{"g":"u","c":"raw","E":542.3,"I":148.5},{"g":"u","c":"raw","E":541.6,"I":148.0},{"g":"u","c":"raw","E":540.9,"I":148.8},{"g":"u","c":"raw","E":540.2,"I":147.5},{"g":"u","c":"raw","E":539.5,"I":148.6},{"g":"u","c":"raw","E":538.8,"I":149.2},{"g":"u","c":"raw","E":538.1,"I":148.4},{"g":"u","c":"raw","E":537.4,"I":149.5},{"g":"u","c":"raw","E":536.7,"I":148.7},{"g":"u","c":"raw","E":536,"I":149.3},{"g":"u","c":"raw","E":535.3,"I":148.6},{"g":"u","c":"raw","E":534.6,"I":149.4},{"g":"u","c":"raw","E":533.9,"I":150.1},{"g":"u","c":"raw","E":533.2,"I":153.0},{"g":"u","c":"raw","E":532.8,"I":155.8},{"g":"u","c":"raw","E":532.4,"I":159.9},{"g":"u","c":"raw","E":532,"I":165.5},{"g":"u","c":"raw","E":531.6,"I":172.6},{"g":"u","c":"raw","E":531.3,"I":177.2},{"g":"u","c":"raw","E":531,"I":180.4},{"g":"u","c":"raw","E":530.7,"I":178.6},{"g":"u","c":"raw","E":530.4,"I":174.4},{"g":"u","c":"raw","E":530,"I":166.2},{"g":"u","c":"raw","E":529.6,"I":159.0},{"g":"u","c":"raw","E":529.2,"I":154.9},{"g":"u","c":"raw","E":528.7,"I":151.2},{"g":"u","c":"raw","E":528.3,"I":150.6},{"g":"u","c":"raw","E":527.6,"I":149.8},{"g":"u","c":"raw","E":526.9,"I":150.3},{"g":"u","c":"raw","E":526.2,"I":149.4},{"g":"u","c":"raw","E":525.5,"I":149.9},
{"g":"l","c":"raw","E":553.5,"I":8.2},{"g":"l","c":"raw","E":552.8,"I":9.6},{"g":"l","c":"raw","E":552.1,"I":8.5},{"g":"l","c":"raw","E":551.4,"I":10.1},{"g":"l","c":"raw","E":550.7,"I":9.0},{"g":"l","c":"raw","E":550,"I":10.6},{"g":"l","c":"raw","E":549.3,"I":9.4},{"g":"l","c":"raw","E":548.6,"I":11.2},{"g":"l","c":"raw","E":547.9,"I":10.0},{"g":"l","c":"raw","E":547.2,"I":11.0},{"g":"l","c":"raw","E":546.5,"I":9.6},{"g":"l","c":"raw","E":545.8,"I":10.4},{"g":"l","c":"raw","E":545.1,"I":9.2},{"g":"l","c":"raw","E":544.4,"I":10.9},{"g":"l","c":"raw","E":543.7,"I":10.1},{"g":"l","c":"raw","E":543,"I":9.3},{"g":"l","c":"raw","E":542.3,"I":10.5},{"g":"l","c":"raw","E":541.6,"I":9.6},{"g":"l","c":"raw","E":540.9,"I":8.7},{"g":"l","c":"raw","E":540.2,"I":9.0},{"g":"l","c":"raw","E":539.5,"I":7.9},{"g":"l","c":"raw","E":538.8,"I":8.9},{"g":"l","c":"raw","E":538.1,"I":9.6},{"g":"l","c":"raw","E":537.4,"I":9.3},{"g":"l","c":"raw","E":536.7,"I":10.2},{"g":"l","c":"raw","E":536,"I":10.5},{"g":"l","c":"raw","E":535.3,"I":11.6},{"g":"l","c":"raw","E":534.6,"I":13.2},{"g":"l","c":"raw","E":533.9,"I":20.5},{"g":"l","c":"raw","E":533.2,"I":34.8},{"g":"l","c":"raw","E":532.8,"I":45.0},{"g":"l","c":"raw","E":532.4,"I":62.5},{"g":"l","c":"raw","E":532,"I":83.0},{"g":"l","c":"raw","E":531.6,"I":112.5},{"g":"l","c":"raw","E":531.3,"I":124.6},{"g":"l","c":"raw","E":531,"I":128.4},{"g":"l","c":"raw","E":530.7,"I":120.3},{"g":"l","c":"raw","E":530.4,"I":101.5},{"g":"l","c":"raw","E":530,"I":70.2},{"g":"l","c":"raw","E":529.6,"I":40.5},{"g":"l","c":"raw","E":529.2,"I":22.4},{"g":"l","c":"raw","E":528.7,"I":14.1},{"g":"l","c":"raw","E":528.3,"I":11.3},{"g":"l","c":"raw","E":527.6,"I":9.8},{"g":"l","c":"raw","E":526.9,"I":10.4},{"g":"l","c":"raw","E":526.2,"I":9.5},{"g":"l","c":"raw","E":525.5,"I":10.2},
{"g":"u","c":"fit","E":537,"I":148.1},{"g":"u","c":"fit","E":536,"I":148.1},{"g":"u","c":"fit","E":535,"I":148.3},{"g":"u","c":"fit","E":534.5,"I":148.7},{"g":"u","c":"fit","E":534,"I":149.6},{"g":"u","c":"fit","E":533.5,"I":151.5},{"g":"u","c":"fit","E":533,"I":154},{"g":"u","c":"fit","E":532.6,"I":157},{"g":"u","c":"fit","E":532.2,"I":162},{"g":"u","c":"fit","E":531.8,"I":169},{"g":"u","c":"fit","E":531.5,"I":174.5},{"g":"u","c":"fit","E":531.2,"I":178.5},{"g":"u","c":"fit","E":531,"I":180},{"g":"u","c":"fit","E":530.8,"I":179.5},{"g":"u","c":"fit","E":530.5,"I":176.5},{"g":"u","c":"fit","E":530.2,"I":170},{"g":"u","c":"fit","E":529.9,"I":164.5},{"g":"u","c":"fit","E":529.6,"I":159.5},{"g":"u","c":"fit","E":529.2,"I":154.5},{"g":"u","c":"fit","E":528.7,"I":151.5},{"g":"u","c":"fit","E":528,"I":150.4},{"g":"u","c":"fit","E":527,"I":149.7},{"g":"u","c":"fit","E":525.5,"I":149.3},
{"g":"l","c":"fit","E":538,"I":9.2},{"g":"l","c":"fit","E":537,"I":9.5},{"g":"l","c":"fit","E":536,"I":10},{"g":"l","c":"fit","E":535.2,"I":11.3},{"g":"l","c":"fit","E":534.6,"I":13.7},{"g":"l","c":"fit","E":534.1,"I":18.3},{"g":"l","c":"fit","E":533.6,"I":27.1},{"g":"l","c":"fit","E":533.1,"I":36.4},{"g":"l","c":"fit","E":532.6,"I":52.2},{"g":"l","c":"fit","E":532.2,"I":71.8},{"g":"l","c":"fit","E":531.9,"I":93.6},{"g":"l","c":"fit","E":531.6,"I":113.6},{"g":"l","c":"fit","E":531.3,"I":125.8},{"g":"l","c":"fit","E":531,"I":127.9},{"g":"l","c":"fit","E":530.7,"I":119.5},{"g":"l","c":"fit","E":530.4,"I":100.9},{"g":"l","c":"fit","E":530.1,"I":76.4},{"g":"l","c":"fit","E":529.8,"I":51.3},{"g":"l","c":"fit","E":529.4,"I":29.7},{"g":"l","c":"fit","E":529,"I":17.1},{"g":"l","c":"fit","E":528.5,"I":12.5},{"g":"l","c":"fit","E":528,"I":10.3},{"g":"l","c":"fit","E":527,"I":9.8},{"g":"l","c":"fit","E":525.5,"I":10},
{"g":"u1","c":"lpink","E":537,"I":148},{"g":"u1","c":"lpink","E":535.5,"I":148.1},{"g":"u1","c":"lpink","E":534.7,"I":148.4},{"g":"u1","c":"lpink","E":534,"I":149.4},{"g":"u1","c":"lpink","E":533.5,"I":151},{"g":"u1","c":"lpink","E":532.9,"I":153.2},{"g":"u1","c":"lpink","E":532.3,"I":154},{"g":"u1","c":"lpink","E":531.7,"I":153.2},{"g":"u1","c":"lpink","E":531.1,"I":151},{"g":"u1","c":"lpink","E":530.6,"I":150.5},{"g":"u1","c":"lpink","E":530,"I":150.3},{"g":"u1","c":"lpink","E":529,"I":150.2},{"g":"u1","c":"lpink","E":528,"I":150},{"g":"u1","c":"lpink","E":527,"I":149.6},{"g":"u1","c":"lpink","E":525.5,"I":149.2},
{"g":"u2","c":"blue","E":535,"I":148},{"g":"u2","c":"blue","E":534,"I":148.4},{"g":"u2","c":"blue","E":533.3,"I":149.6},{"g":"u2","c":"blue","E":532.8,"I":152.3},{"g":"u2","c":"blue","E":532.4,"I":157.3},{"g":"u2","c":"blue","E":532,"I":164.4},{"g":"u2","c":"blue","E":531.6,"I":173.4},{"g":"u2","c":"blue","E":531.3,"I":177.5},{"g":"u2","c":"blue","E":531,"I":179},{"g":"u2","c":"blue","E":530.7,"I":177.5},{"g":"u2","c":"blue","E":530.4,"I":173.4},{"g":"u2","c":"blue","E":530,"I":164.4},{"g":"u2","c":"blue","E":529.6,"I":157.3},{"g":"u2","c":"blue","E":529.2,"I":152.3},{"g":"u2","c":"blue","E":528.7,"I":149.6},{"g":"u2","c":"blue","E":528,"I":148.4},{"g":"u2","c":"blue","E":527,"I":148},
{"g":"l1","c":"lpink","E":553.5,"I":9},{"g":"l1","c":"lpink","E":537,"I":9},{"g":"l1","c":"lpink","E":536,"I":9.3},{"g":"l1","c":"lpink","E":535.2,"I":10.3},{"g":"l1","c":"lpink","E":534.6,"I":12.5},{"g":"l1","c":"lpink","E":534.1,"I":16.8},{"g":"l1","c":"lpink","E":533.6,"I":24},{"g":"l1","c":"lpink","E":533.1,"I":29.7},{"g":"l1","c":"lpink","E":532.6,"I":32},{"g":"l1","c":"lpink","E":532.1,"I":29.7},{"g":"l1","c":"lpink","E":531.6,"I":24},{"g":"l1","c":"lpink","E":531.1,"I":16.8},{"g":"l1","c":"lpink","E":530.6,"I":12.5},{"g":"l1","c":"lpink","E":530,"I":10.3},{"g":"l1","c":"lpink","E":529.2,"I":9.8},{"g":"l1","c":"lpink","E":528,"I":10},{"g":"l1","c":"lpink","E":525.5,"I":10.2},
{"g":"l2","c":"blue","E":535,"I":9},{"g":"l2","c":"blue","E":534,"I":10.1},{"g":"l2","c":"blue","E":533.5,"I":12.4},{"g":"l2","c":"blue","E":533,"I":16.8},{"g":"l2","c":"blue","E":532.6,"I":29.2},{"g":"l2","c":"blue","E":532.2,"I":50.4},{"g":"l2","c":"blue","E":531.9,"I":75},{"g":"l2","c":"blue","E":531.6,"I":98.6},{"g":"l2","c":"blue","E":531.3,"I":115.4},{"g":"l2","c":"blue","E":531,"I":121},{"g":"l2","c":"blue","E":530.7,"I":115.4},{"g":"l2","c":"blue","E":530.4,"I":98.6},{"g":"l2","c":"blue","E":530.1,"I":75},{"g":"l2","c":"blue","E":529.8,"I":50.4},{"g":"l2","c":"blue","E":529.4,"I":29.2},{"g":"l2","c":"blue","E":529,"I":16.8},{"g":"l2","c":"blue","E":528.5,"I":12.4},{"g":"l2","c":"blue","E":528,"I":10.1},{"g":"l2","c":"blue","E":527,"I":9}
]
},
"spacing":55,
"bounds":"flush",
"vconcat":[
{
 "width":352,"height":233,
 "view":{"stroke":null},
 "encoding":{
  "x":{"field":"E","type":"quantitative","scale":{"domain":[0,1000],"reverse":true,"nice":false,"zero":false},"axis":{"title":"Binding energy (eV)","values":[1000,900,800,700,600,500,400,300,200,100,0],"labelExpr":"datum.value % 200 == 0 ? datum.label : ''","format":"d","domainWidth":1.2,"tickSize":3,"tickWidth":1,"labelFontSize":9,"labelPadding":2,"titleFontSize":13.5,"titlePadding":5}},
  "y":{"field":"I","type":"quantitative","scale":{"domain":[0,233],"nice":false,"zero":false},"axis":{"title":"Intensity (a.u.)","labels":false,"ticks":false,"domainWidth":1.2,"titleFontSize":14,"titlePadding":14}}
 },
 "layer":[
  {"data":{"name":"a"},"mark":{"type":"line","strokeWidth":1.3},"encoding":{"color":{"field":"c","type":"nominal","legend":null,"scale":{"domain":["raw","fit","blue","pink","lpink","yellow","purple","red","black","praw","dblue"],"range":["#3b2d6b","#39c14f","#4a5ce0","#ef4a87","#f39bd1","#efd97a","#9444c6","#ff2b3f","#141414","#d9457a","#44409e"]}}}},
  {"data":{"name":"aL"},"transform":[{"filter":"datum.k == 'peak'"}],"mark":{"type":"text","angle":270,"align":"left","baseline":"middle","font":"Liberation Sans","fontWeight":"bold","fontSize":8,"color":"#111"},"encoding":{"text":{"field":"t"}}},
  {"data":{"name":"aL"},"transform":[{"filter":"datum.k == 'ser'"}],"mark":{"type":"text","align":"left","baseline":"middle","font":"Liberation Sans","fontWeight":"bold","fontSize":8},"encoding":{"text":{"field":"t"},"color":{"field":"c","type":"nominal","legend":null,"scale":{"domain":["raw","fit","blue","pink","lpink","yellow","purple","red","black","praw","dblue"],"range":["#3b2d6b","#39c14f","#4a5ce0","#ef4a87","#f39bd1","#efd97a","#9444c6","#ff2b3f","#141414","#d9457a","#44409e"]}}}},
  {"data":{"name":"aL"},"transform":[{"filter":"datum.k == 'pan'"}],"mark":{"type":"text","align":"left","baseline":"middle","font":"Liberation Sans","fontSize":11,"color":"#222"},"encoding":{"text":{"field":"t"}}}
 ]
},
{
 "spacing":265,
 "bounds":"flush",
 "vconcat":[
  {
   "spacing":32,
   "bounds":"flush",
   "hconcat":[
    {
     "width":158,"height":227,
     "encoding":{
      "x":{"field":"E","type":"quantitative","scale":{"domain":[280,298.2],"reverse":true,"nice":false,"zero":false},"axis":{"title":"Binding energy (eV)","values":[297.5,295,292.5,290,287.5,285,282.5,280],"labelExpr":"datum.value % 5 == 0 ? datum.label : ''","format":"d","domain":false,"tickSize":3,"labelFontSize":7,"labelPadding":2,"titleFontSize":10,"titlePadding":6}},
      "y":{"field":"I","type":"quantitative","scale":{"domain":[0,227],"nice":false,"zero":false},"axis":{"title":"Intensity (a.u.)","labels":false,"ticks":false,"domain":false,"titleFontSize":9.5,"titlePadding":10}}
     },
     "layer":[
      {"data":{"name":"b"},"transform":[{"filter":"datum.c == 'raw'"}],"mark":{"type":"line","strokeWidth":1},"encoding":{"detail":{"field":"g"},"color":{"field":"c","type":"nominal","legend":null,"scale":{"domain":["raw","fit","blue","pink","lpink","yellow","purple","red","black","praw","dblue"],"range":["#3b2d6b","#39c14f","#4a5ce0","#ef4a87","#f39bd1","#efd97a","#9444c6","#ff2b3f","#141414","#d9457a","#44409e"]}}}},
      {"data":{"name":"b"},"transform":[{"filter":"datum.c != 'raw' && datum.c != 'fit'"}],"mark":{"type":"line","strokeWidth":1},"encoding":{"detail":{"field":"g"},"color":{"field":"c","type":"nominal","legend":null,"scale":{"domain":["raw","fit","blue","pink","lpink","yellow","purple","red","black","praw","dblue"],"range":["#3b2d6b","#39c14f","#4a5ce0","#ef4a87","#f39bd1","#efd97a","#9444c6","#ff2b3f","#141414","#d9457a","#44409e"]}}}},
      {"data":{"name":"b"},"transform":[{"filter":"datum.c == 'fit'"}],"mark":{"type":"line","strokeWidth":1},"encoding":{"detail":{"field":"g"},"color":{"field":"c","type":"nominal","legend":null,"scale":{"domain":["raw","fit","blue","pink","lpink","yellow","purple","red","black","praw","dblue"],"range":["#3b2d6b","#39c14f","#4a5ce0","#ef4a87","#f39bd1","#efd97a","#9444c6","#ff2b3f","#141414","#d9457a","#44409e"]}}}},
      {"data":{"name":"L"},"transform":[{"filter":"datum.p == 'b' && datum.k == 'pan'"}],"mark":{"type":"text","align":"left","baseline":"middle","font":"Liberation Sans","fontSize":10,"color":"#222"},"encoding":{"text":{"field":"t"}}},
      {"data":{"name":"L"},"transform":[{"filter":"datum.p == 'b' && datum.k == 'name'"}],"mark":{"type":"text","align":"left","baseline":"middle","font":"Liberation Sans","fontWeight":"bold","fontSize":8,"color":"#ee1c4b"},"encoding":{"text":{"field":"t"}}},
      {"data":{"name":"L"},"transform":[{"filter":"datum.p == 'b' && datum.k == 'val'"}],"mark":{"type":"text","align":"center","baseline":"middle","font":"Liberation Sans","fontWeight":"bold","fontSize":8.5,"color":"#111"},"encoding":{"text":{"field":"t"}}},
      {"data":{"name":"L"},"transform":[{"filter":"datum.p == 'b' && datum.k == 'ser'"}],"mark":{"type":"text","align":"left","baseline":"middle","font":"Liberation Sans","fontSize":6.6,"color":"#3e4a62"},"encoding":{"text":{"field":"t"}}}
     ]
    },
    {
     "width":157,"height":227,
     "encoding":{
      "x":{"field":"E","type":"quantitative","scale":{"domain":[337,362.2],"reverse":true,"nice":false,"zero":false},"axis":{"title":"Binding energy (eV)","values":[360,357.5,355,352.5,350,347.5,345,342.5,340,337.5],"labelExpr":"datum.value % 5 == 0 ? datum.label : ''","format":"d","domain":false,"tickSize":3,"labelFontSize":7,"labelPadding":2,"titleFontSize":10,"titlePadding":6}},
      "y":{"field":"I","type":"quantitative","scale":{"domain":[0,227],"nice":false,"zero":false},"axis":{"title":"Intensity (a.u.)","labels":false,"ticks":false,"domain":false,"titleFontSize":9.5,"titlePadding":9}}
     },
     "layer":[
      {"data":{"name":"c"},"transform":[{"filter":"datum.c == 'raw'"}],"mark":{"type":"line","strokeWidth":1},"encoding":{"detail":{"field":"g"},"color":{"field":"c","type":"nominal","legend":null,"scale":{"domain":["raw","fit","blue","pink","lpink","yellow","purple","red","black","praw","dblue"],"range":["#3b2d6b","#39c14f","#4a5ce0","#ef4a87","#f39bd1","#efd97a","#9444c6","#ff2b3f","#141414","#d9457a","#44409e"]}}}},
      {"data":{"name":"c"},"transform":[{"filter":"datum.c != 'raw' && datum.c != 'fit'"}],"mark":{"type":"line","strokeWidth":1},"encoding":{"detail":{"field":"g"},"color":{"field":"c","type":"nominal","legend":null,"scale":{"domain":["raw","fit","blue","pink","lpink","yellow","purple","red","black","praw","dblue"],"range":["#3b2d6b","#39c14f","#4a5ce0","#ef4a87","#f39bd1","#efd97a","#9444c6","#ff2b3f","#141414","#d9457a","#44409e"]}}}},
      {"data":{"name":"c"},"transform":[{"filter":"datum.c == 'fit'"}],"mark":{"type":"line","strokeWidth":1},"encoding":{"detail":{"field":"g"},"color":{"field":"c","type":"nominal","legend":null,"scale":{"domain":["raw","fit","blue","pink","lpink","yellow","purple","red","black","praw","dblue"],"range":["#3b2d6b","#39c14f","#4a5ce0","#ef4a87","#f39bd1","#efd97a","#9444c6","#ff2b3f","#141414","#d9457a","#44409e"]}}}},
      {"data":{"name":"L"},"transform":[{"filter":"datum.p == 'c' && datum.k == 'pan'"}],"mark":{"type":"text","align":"left","baseline":"middle","font":"Liberation Sans","fontSize":10,"color":"#222"},"encoding":{"text":{"field":"t"}}},
      {"data":{"name":"L"},"transform":[{"filter":"datum.p == 'c' && datum.k == 'name'"}],"mark":{"type":"text","align":"left","baseline":"middle","font":"Liberation Sans","fontWeight":"bold","fontSize":8,"color":"#ee1c4b"},"encoding":{"text":{"field":"t"}}},
      {"data":{"name":"L"},"transform":[{"filter":"datum.p == 'c' && datum.k == 'val'"}],"mark":{"type":"text","align":"center","baseline":"middle","font":"Liberation Sans","fontWeight":"bold","fontSize":8.5,"color":"#111"},"encoding":{"text":{"field":"t"}}},
      {"data":{"name":"L"},"transform":[{"filter":"datum.p == 'c' && datum.k == 'ser'"}],"mark":{"type":"text","align":"left","baseline":"middle","font":"Liberation Sans","fontSize":6.6,"color":"#3e4a62"},"encoding":{"text":{"field":"t"}}}
     ]
    }
   ]
  },
  {
   "spacing":35,
   "bounds":"flush",
   "hconcat":[
    {
     "width":156,"height":224,
     "encoding":{
      "x":{"field":"E","type":"quantitative","scale":{"domain":[122.3,155],"reverse":true,"nice":false,"zero":false},"axis":{"title":"Binding energy (eV)","values":[150,145,140,135,130,125],"labelExpr":"datum.value % 10 == 0 ? datum.label : ''","format":"d","domain":false,"tickSize":3,"labelFontSize":7,"labelPadding":2,"titleFontSize":10,"titlePadding":6}},
      "y":{"field":"I","type":"quantitative","scale":{"domain":[0,224],"nice":false,"zero":false},"axis":{"title":"Intensity (a.u.)","labels":false,"ticks":false,"domain":false,"titleFontSize":9.5,"titlePadding":10}}
     },
     "layer":[
      {"data":{"name":"d"},"transform":[{"filter":"datum.c != 'fit'"}],"mark":{"type":"line","strokeWidth":1},"encoding":{"detail":{"field":"g"},"color":{"field":"c","type":"nominal","legend":null,"scale":{"domain":["raw","fit","blue","pink","lpink","yellow","purple","red","black","praw","dblue"],"range":["#3b2d6b","#39c14f","#4a5ce0","#ef4a87","#f39bd1","#efd97a","#9444c6","#ff2b3f","#141414","#d9457a","#44409e"]}}}},
      {"data":{"name":"d"},"transform":[{"filter":"datum.c == 'fit'"}],"mark":{"type":"line","strokeWidth":1.2,"color":"#44409e"},"encoding":{"detail":{"field":"g"}}},
      {"data":{"name":"L"},"transform":[{"filter":"datum.p == 'd' && datum.k == 'pan'"}],"mark":{"type":"text","align":"left","baseline":"middle","font":"Liberation Sans","fontSize":10,"color":"#222"},"encoding":{"text":{"field":"t"}}},
      {"data":{"name":"L"},"transform":[{"filter":"datum.p == 'd' && datum.k == 'name'"}],"mark":{"type":"text","align":"left","baseline":"middle","font":"Liberation Sans","fontWeight":"bold","fontSize":8,"color":"#ee1c4b"},"encoding":{"text":{"field":"t"}}},
      {"data":{"name":"L"},"transform":[{"filter":"datum.p == 'd' && datum.k == 'val'"}],"mark":{"type":"text","align":"center","baseline":"middle","font":"Liberation Sans","fontWeight":"bold","fontSize":8.5,"color":"#111"},"encoding":{"text":{"field":"t"}}},
      {"data":{"name":"L"},"transform":[{"filter":"datum.p == 'd' && datum.k == 'ser'"}],"mark":{"type":"text","align":"left","baseline":"middle","font":"Liberation Sans","fontSize":6.6,"color":"#3e4a62"},"encoding":{"text":{"field":"t"}}}
     ]
    },
    {
     "width":158,"height":224,
     "encoding":{
      "x":{"field":"E","type":"quantitative","scale":{"domain":[525.1,553.8],"reverse":true,"nice":false,"zero":false},"axis":{"title":"Binding energy (eV)","values":[550,545,540,535,530],"labelExpr":"datum.value % 10 == 0 ? datum.label : ''","format":"d","domain":false,"tickSize":3,"labelFontSize":7,"labelPadding":2,"titleFontSize":10,"titlePadding":6}},
      "y":{"field":"I","type":"quantitative","scale":{"domain":[0,224],"nice":false,"zero":false},"axis":{"title":"Intensity (a.u.)","labels":false,"ticks":false,"domain":false,"titleFontSize":9.5,"titlePadding":9}}
     },
     "layer":[
      {"data":{"name":"e"},"transform":[{"filter":"datum.c == 'raw'"}],"mark":{"type":"line","strokeWidth":1},"encoding":{"detail":{"field":"g"},"color":{"field":"c","type":"nominal","legend":null,"scale":{"domain":["raw","fit","blue","pink","lpink","yellow","purple","red","black","praw","dblue"],"range":["#3b2d6b","#39c14f","#4a5ce0","#ef4a87","#f39bd1","#efd97a","#9444c6","#ff2b3f","#141414","#d9457a","#44409e"]}}}},
      {"data":{"name":"e"},"transform":[{"filter":"datum.c != 'raw' && datum.c != 'fit'"}],"mark":{"type":"line","strokeWidth":1},"encoding":{"detail":{"field":"g"},"color":{"field":"c","type":"nominal","legend":null,"scale":{"domain":["raw","fit","blue","pink","lpink","yellow","purple","red","black","praw","dblue"],"range":["#3b2d6b","#39c14f","#4a5ce0","#ef4a87","#f39bd1","#efd97a","#9444c6","#ff2b3f","#141414","#d9457a","#44409e"]}}}},
      {"data":{"name":"e"},"transform":[{"filter":"datum.c == 'fit'"}],"mark":{"type":"line","strokeWidth":1},"encoding":{"detail":{"field":"g"},"color":{"field":"c","type":"nominal","legend":null,"scale":{"domain":["raw","fit","blue","pink","lpink","yellow","purple","red","black","praw","dblue"],"range":["#3b2d6b","#39c14f","#4a5ce0","#ef4a87","#f39bd1","#efd97a","#9444c6","#ff2b3f","#141414","#d9457a","#44409e"]}}}},
      {"data":{"name":"L"},"transform":[{"filter":"datum.p == 'e' && datum.k == 'pan'"}],"mark":{"type":"text","align":"left","baseline":"middle","font":"Liberation Sans","fontSize":10,"color":"#222"},"encoding":{"text":{"field":"t"}}},
      {"data":{"name":"L"},"transform":[{"filter":"datum.p == 'e' && datum.k == 'name'"}],"mark":{"type":"text","align":"left","baseline":"middle","font":"Liberation Sans","fontWeight":"bold","fontSize":8,"color":"#ee1c4b"},"encoding":{"text":{"field":"t"}}},
      {"data":{"name":"L"},"transform":[{"filter":"datum.p == 'e' && datum.k == 'val'"}],"mark":{"type":"text","align":"center","baseline":"middle","font":"Liberation Sans","fontWeight":"bold","fontSize":8.5,"color":"#111"},"encoding":{"text":{"field":"t"}}},
      {"data":{"name":"L"},"transform":[{"filter":"datum.p == 'e' && datum.k == 'ser'"}],"mark":{"type":"text","align":"left","baseline":"middle","font":"Liberation Sans","fontSize":6.6,"color":"#3e4a62"},"encoding":{"text":{"field":"t"}}}
     ]
    }
   ]
  }
 ]
}
]
}
